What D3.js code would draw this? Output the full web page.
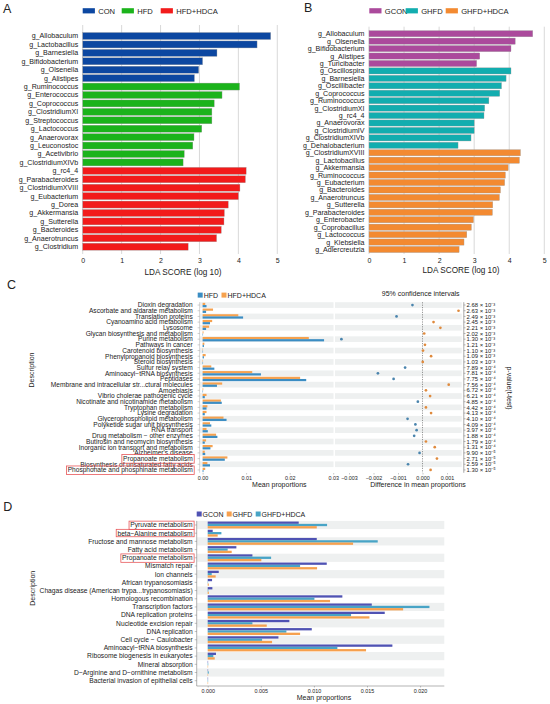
<!DOCTYPE html>
<html><head><meta charset="utf-8">
<script src="https://cdn.jsdelivr.net/npm/d3@7"></script>
<style>
body{margin:0;background:#fff}
svg{display:block}
text{font-family:"Liberation Sans",Arial,Helvetica,sans-serif;fill:#222}
</style></head>
<body><svg id="chart" width="550" height="704"></svg>
<script>
// ---------- Panel A data ----------
const aTaxa = ["g_Allobaculum","g_Lactobacillus","g_Barnesiella","g_Bifidobacterium","g_Olsenella","g_Alistipes",
  "g_Ruminococcus","g_Enterococcus","g_Coprococcus","g_ClostridiumXI","g_Streptococcus","g_Lactococcus","g_Anaerovorax","g_Leuconostoc","g_Acetivibrio","g_ClostridiumXIVb",
  "g_rc4_4","g_Parabacteroides","g_ClostridiumXVIII","g_Eubacterium","g_Dorea","g_Akkermansia","g_Sutterella","g_Bacteroides","g_Anaerotruncus","g_Clostridium"];
const aScores = [4.83,4.48,3.45,3.08,2.98,2.87,
  4.03,3.58,3.38,3.32,3.32,3.06,2.86,2.83,2.61,2.58,
  4.20,4.18,4.04,4.00,3.74,3.64,3.63,3.56,3.44,2.71];
const aGroups = ["CON","CON","CON","CON","CON","CON",
  "HFD","HFD","HFD","HFD","HFD","HFD","HFD","HFD","HFD","HFD",
  "HFD+HDCA","HFD+HDCA","HFD+HDCA","HFD+HDCA","HFD+HDCA","HFD+HDCA","HFD+HDCA","HFD+HDCA","HFD+HDCA","HFD+HDCA"];
const aLegend = ["CON","HFD","HFD+HDCA"];
const aTicks = [0,1,2,3,4,5];

// ---------- Panel B data ----------
const bTaxa = ["g_Allobaculum","g_Olsenella","g_Bifidobacterium","g_Alistipes","g_Turicibacter",
  "g_Oscillospira","g_Barnesiella","g_Oscillibacter","g_Coprococcus","g_Ruminococcus","g_ClostridiumXI","g_rc4_4","g_Anaerovorax","g_ClostridiumIV","g_ClostridiumXIVb","g_Dehalobacterium",
  "g_ClostridiumXVIII","g_Lactobacillus","g_Akkermansia","g_Ruminococcus","g_Eubacterium","g_Bacteroides","g_Anaerotruncus","g_Sutterella","g_Parabacteroides","g_Enterobacter","g_Coprobacillus","g_Lactococcus","g_Klebsiella","g_Adlercreutzia"];
const bScores = [4.67,4.17,4.05,3.16,3.07,
  4.05,3.91,3.78,3.73,3.42,3.30,3.28,3.00,3.00,2.91,2.54,
  4.32,4.29,3.97,3.89,3.87,3.75,3.72,3.53,3.52,2.98,2.92,2.79,2.71,2.57];
const bGroups = ["GCON","GCON","GCON","GCON","GCON",
  "GHFD","GHFD","GHFD","GHFD","GHFD","GHFD","GHFD","GHFD","GHFD","GHFD","GHFD",
  "GHFD+HDCA","GHFD+HDCA","GHFD+HDCA","GHFD+HDCA","GHFD+HDCA","GHFD+HDCA","GHFD+HDCA","GHFD+HDCA","GHFD+HDCA","GHFD+HDCA","GHFD+HDCA","GHFD+HDCA","GHFD+HDCA","GHFD+HDCA"];
const bLegend = ["GCON","GHFD","GHFD+HDCA"];
const bTicks = [0,1,2,3,4,5];

// ---------- Panel C data ----------
const cPathways = ["Dioxin degradation","Ascorbate and aldarate metabolism","Translation proteins","Cyanoamino acid metabolism","Lysosome",
  "Glycan biosynthesis and metabolism","Purine metabolism","Pathways in cancer","Carotenoid biosynthesis","Phenylpropanoid biosynthesis",
  "Steroid biosynthesis","Sulfur relay system","Aminoacyl\u2212tRNA biosynthesis","Peptidases","Membrane and intracellular str...ctural molecules",
  "Amoebiasis","Vibrio cholerae pathogenic cycle","Nicotinate and nicotinamide metabolism","Tryptophan metabolism","Lysine degradation",
  "Glycerophospholipid metabolism","Polyketide sugar unit biosynthesis","RNA transport","Drug metabolism \u2212 other enzymes","Butirosin and neomycin biosynthesis",
  "Inorganic ion transport and metabolism","Alzheimer's disease","Propanoate metabolism","Biosynthesis of unsaturated fatty acids","Phosphonate and phosphinate metabolism"];
const cHFD  = [0.0009,0.0008,0.0093,0.0017,0.0008,0.0001,0.0279,0.0003,0.0001,0.0003,0.0001,0.0027,0.0134,0.0238,0.0033,
  0.0001,0.0005,0.0044,0.0009,0.0005,0.0055,0.0020,0.0012,0.0034,0.0005,0.0018,0.0006,0.0051,0.0017,0.0002];
const cHDCA = [0.0006,0.0024,0.0082,0.0022,0.0015,0.0002,0.0244,0.0004,0.0001,0.0007,0.0001,0.0020,0.0114,0.0224,0.0045,
  0.00015,0.0009,0.0042,0.0011,0.0009,0.0048,0.0017,0.0009,0.0031,0.0008,0.0023,0.0005,0.0057,0.0011,0.0006];
const cDiff = [-0.00041,0.00147,-0.00106,0.00045,0.00073,0.00007,-0.00331,0.00010,0.00002,0.00035,
  0.00001,-0.00071,-0.00182,-0.00118,0.00107,0.00014,0.00031,-0.00019,0.00014,0.00035,
  -0.00061,-0.00029,-0.00024,-0.00034,0.00014,0.00050,-0.00012,0.00059,-0.00059,0.00033];
const cPvals = ["2.68 \u00d7 10\u207b\u00b3","2.63 \u00d7 10\u207b\u00b3","2.49 \u00d7 10\u207b\u00b3","2.45 \u00d7 10\u207b\u00b3","2.21 \u00d7 10\u207b\u00b3",
  "2.02 \u00d7 10\u207b\u00b3","1.30 \u00d7 10\u207b\u00b3","1.21 \u00d7 10\u207b\u00b3","1.10 \u00d7 10\u207b\u00b3","1.09 \u00d7 10\u207b\u00b3",
  "1.03 \u00d7 10\u207b\u00b3","7.89 \u00d7 10\u207b\u2074","7.81 \u00d7 10\u207b\u2074","7.75 \u00d7 10\u207b\u2074","7.56 \u00d7 10\u207b\u2074",
  "6.72 \u00d7 10\u207b\u2074","6.21 \u00d7 10\u207b\u2074","4.85 \u00d7 10\u207b\u2074","4.42 \u00d7 10\u207b\u2074","4.13 \u00d7 10\u207b\u2074",
  "4.10 \u00d7 10\u207b\u2074","4.09 \u00d7 10\u207b\u2074","3.97 \u00d7 10\u207b\u2074","1.88 \u00d7 10\u207b\u2074","1.79 \u00d7 10\u207b\u2074",
  "1.31 \u00d7 10\u207b\u2074","9.90 \u00d7 10\u207b\u2075","2.71 \u00d7 10\u207b\u2075","2.59 \u00d7 10\u207b\u2075","1.30 \u00d7 10\u207b\u2075"];
const cLegend = ["HFD","HFD+HDCA"];
const cBarTicks = [0,0.01,0.02,0.03];
const cDiffTicks = [-0.003,-0.002,-0.001,0,0.001];
const cHighlight = ["Propanoate metabolism","Phosphonate and phosphinate metabolism"];

// ---------- Panel D data ----------
const dPathways = ["Pyruvate metabolism","beta\u2212Alanine metabolism","Fructose and mannose metabolism","Fatty acid metabolism","Propanoate metabolism",
  "Mismatch repair","Ion channels","African trypanosomiasis","Chagas disease (American trypa...trypanosomiasis)","Homologous recombination",
  "Transcription factors","DNA replication proteins","Nucleotide excision repair","DNA replication","Cell cycle \u2212 Caulobacter",
  "Aminoacyl\u2212tRNA biosynthesis","Ribosome biogenesis in eukaryotes","Mineral absorption","D\u2212Arginine and D\u2212ornithine metabolism","Bacterial invasion of epithelial cells"];
const dGCON  = [0.00857,0.00047,0.01027,0.00270,0.00421,0.01121,0.00104,0.00041,0.00044,0.01268,0.01545,0.01667,0.00769,0.00980,0.00666,0.01739,0.00078,0.00003,0.00003,0.00002];
const dGHFD  = [0.01027,0.00094,0.01369,0.00226,0.00505,0.01030,0.00075,0.00010,0.00010,0.01152,0.01840,0.01523,0.00556,0.00870,0.00606,0.01491,0.00066,0.00002,0.00002,0.00001];
const dGHDCA = [0.01124,0.00129,0.01601,0.00188,0.00597,0.00870,0.00038,0.00003,0.00006,0.01005,0.02088,0.01350,0.00421,0.00741,0.00512,0.01221,0.00053,0.00005,0.00010,0.00004];
const dLegend = ["GCON","GHFD","GHFD+HDCA"];
const dTicks = [0,0.005,0.010,0.015,0.020];
const dHighlight = ["Pyruvate metabolism","beta\u2212Alanine metabolism","Propanoate metabolism"];

const svg = d3.select("#chart");
const boxColor = "#e8585a";

function panelLabel(t,x,y){ svg.append("text").attr("x",x).attr("y",y).attr("font-size",12.5).text(t); }

// ---------- LDA panel builder ----------
function ldaPanel(o){
  const g = svg.append("g");
  const x = d3.scaleLinear().domain([0,5]).range([o.x0,o.x5]);
  const y = d3.scaleBand().domain(d3.range(o.taxa.length)).range([o.yTop,o.yBot]).paddingInner(0.17).paddingOuter(0.085);
  const color = d3.scaleOrdinal().domain(o.legend).range(o.colors);
  g.selectAll("line.grid").data(o.ticks).join("line")
    .attr("x1",d=>x(d)).attr("x2",d=>x(d)).attr("y1",o.gTop).attr("y2",o.gBot)
    .attr("stroke","#c9c9c9").attr("stroke-width",0.7);
  g.selectAll("rect.bar").data(o.scores).join("rect")
    .attr("x",x(0)).attr("y",(d,i)=>y(i)).attr("width",d=>x(d)-x(0)).attr("height",y.bandwidth())
    .attr("fill",(d,i)=>color(o.groups[i])).attr("stroke","#9a9a9a").attr("stroke-width",0.35);
  g.selectAll("text.lab").data(o.taxa).join("text")
    .attr("x",o.x0-4.5).attr("y",(d,i)=>y(i)+y.bandwidth()/2).attr("dy","0.35em")
    .attr("text-anchor","end").attr("font-size",7.1).attr("fill","#333").text(d=>d);
  const ax = g.append("g").attr("transform",`translate(0,${o.gBot})`)
    .call(d3.axisBottom(x).tickValues(o.ticks).tickSize(0).tickPadding(4).tickFormat(d3.format("d")));
  ax.select(".domain").remove();
  ax.selectAll("text").attr("font-size",7).attr("fill","#444").style("font-family",'"Liberation Sans",Arial,sans-serif');
  g.append("text").attr("x",o.titleX).attr("y",o.titleY).attr("text-anchor","middle").attr("font-size",8.2).attr("fill","#333").text("LDA SCORE (log 10)");
  // legend
  o.legend.forEach((k,i)=>{
    g.append("rect").attr("x",o.legX[i]).attr("y",8.2).attr("width",12.2).attr("height",5.2).attr("fill",o.colors[i]);
    g.append("text").attr("x",o.legX[i]+15.5).attr("y",13.6).attr("font-size",7.6).attr("fill","#333").text(k);
  });
}

panelLabel("A",3,13.3);
ldaPanel({taxa:aTaxa,scores:aScores,groups:aGroups,legend:aLegend,colors:["#0c47a1","#1bb31b","#f21b1b"],
  ticks:aTicks,x0:82.7,x5:277.3,yTop:31.8,yBot:250.9,gTop:25,gBot:254,titleX:183,titleY:274.5,legX:[82.7,121.7,160.7]});
panelLabel("B",304,12.3);
ldaPanel({taxa:bTaxa,scores:bScores,groups:bGroups,legend:bLegend,colors:["#ab4a9c","#12adaf","#f38a31"],
  ticks:bTicks,x0:369,x5:544.3,yTop:30,yBot:253.2,gTop:26.7,gBot:254,titleX:461,titleY:273,legX:[369.3,405.7,445.7]});

// ---------- Panel C ----------
panelLabel("C",7,289.3);
(function(){
  const g = svg.append("g");
  const n = cPathways.length;
  const y = d3.scaleBand().domain(d3.range(n)).range([302.2,472.8]);
  const step = y.step();
  const xb = d3.scaleLinear().domain([0,0.03]).range([202.6,333.2]);
  const xd = d3.scaleLinear().domain([-0.001,0]).range([398,422.5]);
  const stripe = "#eef0f0";
  // stripes
  g.selectAll("rect.s1").data(d3.range(0,n,2)).join("rect")
    .attr("x",200).attr("y",d=>y(d)).attr("width",133.5).attr("height",step).attr("fill",stripe);
  g.selectAll("rect.s2").data(d3.range(0,n,2)).join("rect")
    .attr("x",335).attr("y",d=>y(d)).attr("width",126.7).attr("height",step).attr("fill",stripe);
  // bars
  const bh = 2.2;
  g.selectAll("rect.o").data(cHDCA).join("rect")
    .attr("x",xb(0)).attr("y",(d,i)=>y(i)+step/2-bh).attr("width",d=>xb(d)-xb(0)).attr("height",bh).attr("fill","#f6a24f");
  g.selectAll("rect.b").data(cHFD).join("rect")
    .attr("x",xb(0)).attr("y",(d,i)=>y(i)+step/2).attr("width",d=>xb(d)-xb(0)).attr("height",bh).attr("fill","#3b8dc3");
  // y axis
  g.append("line").attr("x1",199.6).attr("x2",199.6).attr("y1",302.2).attr("y2",472.8).attr("stroke","#aaa").attr("stroke-width",0.5);
  g.selectAll("line.yt").data(d3.range(n)).join("line")
    .attr("x1",197.6).attr("x2",199.6).attr("y1",d=>y(d)+step/2).attr("y2",d=>y(d)+step/2).attr("stroke","#888").attr("stroke-width",0.4);
  const labs = g.selectAll("text.lab").data(cPathways).join("text")
    .attr("x",192.7).attr("y",(d,i)=>y(i)+step/2).attr("dy","0.35em").attr("text-anchor","end")
    .attr("font-size",6.6).attr("fill","#222").text(d=>d);
  labs.filter(d=>cHighlight.includes(d)).each(function(){
    const bb=this.getBBox();
    g.append("rect").attr("x",bb.x-1.2).attr("y",bb.y-0.3).attr("width",bb.width+2.2).attr("height",bb.height+0.6)
      .attr("fill","none").attr("stroke",boxColor).attr("stroke-width",0.8);
  });
  g.append("text").attr("transform","translate(34,370) rotate(-90)").attr("text-anchor","middle").attr("font-size",7).text("Description");
  // zero line
  g.append("line").attr("x1",xd(0)).attr("x2",xd(0)).attr("y1",302.2).attr("y2",472.8)
    .attr("stroke","#555").attr("stroke-width",0.6).attr("stroke-dasharray","1.2,1.2");
  // points
  g.selectAll("circle.p").data(cDiff).join("circle")
    .attr("cx",d=>xd(d)).attr("cy",(d,i)=>y(i)+step/2).attr("r",1.35)
    .attr("fill",d=>d<0?"#4a84ad":"#df8a3d");
  // x axes
  const axb = g.append("g").attr("transform","translate(0,473)")
    .call(d3.axisBottom(xb).tickValues(cBarTicks).tickSize(1.5).tickPadding(1.5).tickFormat(d3.format(".2f")));
  const axd = g.append("g").attr("transform","translate(0,473)")
    .call(d3.axisBottom(xd).tickValues(cDiffTicks).tickSize(1.5).tickPadding(1.5).tickFormat(d=>d===0?"0.000":d3.format(".3f")(d).replace("-","\u2212")));
  [axb,axd].forEach(a=>{a.select(".domain").remove();
    a.selectAll("line").attr("stroke","#777").attr("stroke-width",0.4);
    a.selectAll("text").attr("font-size",5.4).attr("fill","#444").style("font-family",'"Liberation Sans",Arial,sans-serif');});
  g.append("text").attr("x",279.3).attr("y",487.3).attr("text-anchor","middle").attr("font-size",7).text("Mean proportions");
  g.append("text").attr("x",418).attr("y",487.3).attr("text-anchor","middle").attr("font-size",7).text("Difference in mean proportions");
  g.append("text").attr("x",420.7).attr("y",295.7).attr("text-anchor","middle").attr("font-size",7).text("95% confidence intervals");
  // p-values axis
  g.append("line").attr("x1",463.8).attr("x2",463.8).attr("y1",302.2).attr("y2",472.8).attr("stroke","#555").attr("stroke-width",0.5);
  g.selectAll("line.pt").data(d3.range(n)).join("line")
    .attr("x1",463.8).attr("x2",465.6).attr("y1",d=>y(d)+step/2).attr("y2",d=>y(d)+step/2).attr("stroke","#555").attr("stroke-width",0.4);
  g.selectAll("text.pv").data(cPvals).join("text")
    .attr("x",466.6).attr("y",(d,i)=>y(i)+step/2).attr("dy","0.36em").attr("font-size",5.9).attr("fill","#333").text(d=>d);
  g.append("text").attr("transform","translate(507,388) rotate(90)").attr("text-anchor","middle").attr("font-size",7).text("p-value(t-test)");
  // legend
  const lc=["#3b8dc3","#f6a24f"], lx=[197.7,221.5];
  cLegend.forEach((k,i)=>{
    g.append("rect").attr("x",lx[i]).attr("y",292.6).attr("width",5).attr("height",5).attr("fill",lc[i]);
    g.append("text").attr("x",lx[i]+6).attr("y",297.6).attr("font-size",7).text(k);
  });
})();

// ---------- Panel D ----------
panelLabel("D",3.3,511);
(function(){
  const g = svg.append("g");
  const n = dPathways.length;
  const y = d3.scaleBand().domain(d3.range(n)).range([520.9,684.8]);
  const step = y.step();
  const x = d3.scaleLinear().domain([0,0.001]).range([207.7,218.32]);
  g.selectAll("rect.s").data(d3.range(0,n,2)).join("rect")
    .attr("x",197).attr("y",d=>y(d)).attr("width",247.3).attr("height",step).attr("fill","#eef0f0");
  const bh=2.3;
  const series=[{v:dGCON,c:"#4f52b3",o:-1.5},{v:dGHDCA,c:"#48a4c6",o:-0.5},{v:dGHFD,c:"#f6a04e",o:0.5}];
  series.forEach(s=>{
    g.selectAll(null).data(s.v).join("rect")
      .attr("x",x(0)).attr("y",(d,i)=>y(i)+step/2+s.o*bh).attr("width",d=>Math.max(0.4,x(d)-x(0))).attr("height",bh).attr("fill",s.c);
  });
  g.append("line").attr("x1",196.7).attr("x2",196.7).attr("y1",520.9).attr("y2",686).attr("stroke","#666").attr("stroke-width",0.5);
  g.append("line").attr("x1",196.7).attr("x2",444.3).attr("y1",686).attr("y2",686).attr("stroke","#666").attr("stroke-width",0.5);
  g.selectAll("line.yt").data(d3.range(n)).join("line")
    .attr("x1",194.7).attr("x2",196.7).attr("y1",d=>y(d)+step/2).attr("y2",d=>y(d)+step/2).attr("stroke","#666").attr("stroke-width",0.4);
  const labs = g.selectAll("text.lab").data(dPathways).join("text")
    .attr("x",192.7).attr("y",(d,i)=>y(i)+step/2).attr("dy","0.35em").attr("text-anchor","end")
    .attr("font-size",6.7).attr("fill","#222").text(d=>d);
  labs.filter(d=>dHighlight.includes(d)).each(function(){
    const bb=this.getBBox();
    g.append("rect").attr("x",bb.x-1.2).attr("y",bb.y-0.2).attr("width",bb.width+2.2).attr("height",bb.height+0.4)
      .attr("fill","none").attr("stroke",boxColor).attr("stroke-width",0.8);
  });
  const ax = g.append("g").attr("transform","translate(0,686)")
    .call(d3.axisBottom(x).tickValues(dTicks).tickSize(1.5).tickPadding(1.5).tickFormat(d3.format(".3f")));
  ax.select(".domain").remove();
  ax.selectAll("line").attr("stroke","#666").attr("stroke-width",0.4);
  ax.selectAll("text").attr("font-size",5.4).attr("fill","#444").style("font-family",'"Liberation Sans",Arial,sans-serif');
  g.append("text").attr("x",324).attr("y",699.5).attr("text-anchor","middle").attr("font-size",7).text("Mean proportions");
  g.append("text").attr("transform","translate(34.5,588.3) rotate(-90)").attr("text-anchor","middle").attr("font-size",7).text("Description");
  const lc=["#4f52b3","#f6a04e","#48a4c6"], lx=[196.7,226.7,255.7];
  dLegend.forEach((k,i)=>{
    g.append("rect").attr("x",lx[i]).attr("y",511.5).attr("width",5).attr("height",5).attr("fill",lc[i]);
    g.append("text").attr("x",lx[i]+5.8).attr("y",516.6).attr("font-size",7).text(k);
  });
})();
</script></body></html>
